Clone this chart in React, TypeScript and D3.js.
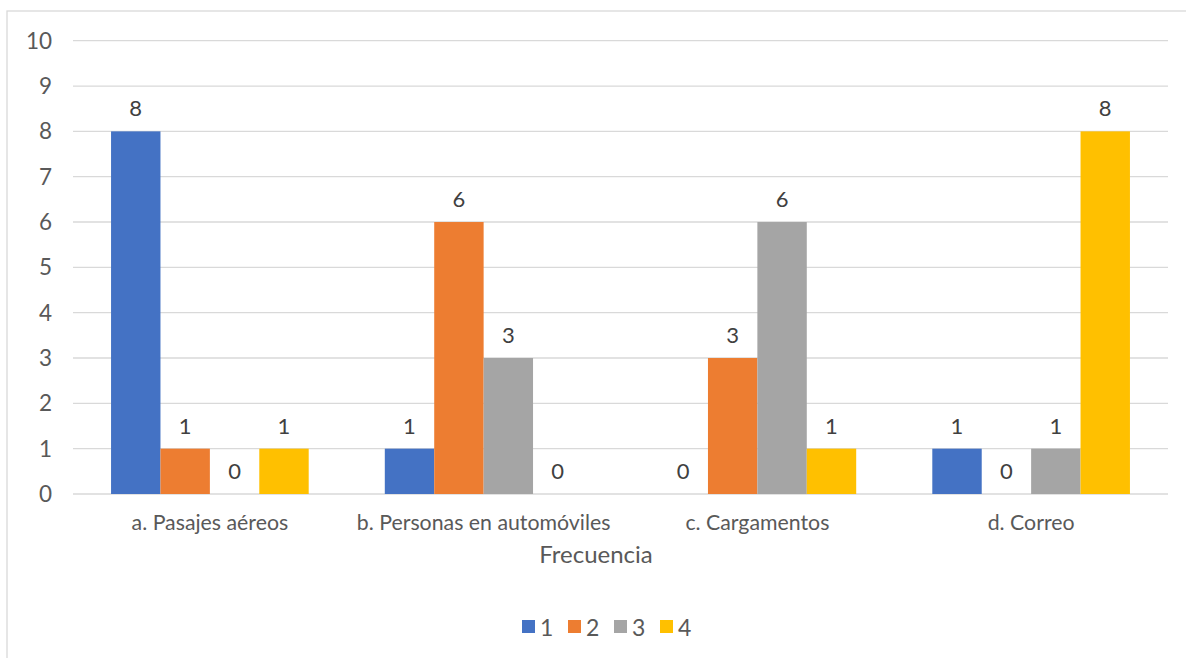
import React from "react";
import * as d3 from "d3";

const categories = ["a. Pasajes aéreos", "b. Personas en automóviles", "c. Cargamentos", "d. Correo"];
const seriesNames = ["1", "2", "3", "4"];
const series1 = [8, 1, 0, 1];
const series2 = [1, 6, 3, 0];
const series3 = [0, 3, 6, 1];
const series4 = [1, 0, 1, 8];
const yTicks = [0, 1, 2, 3, 4, 5, 6, 7, 8, 9, 10];
const colors = ["#4472C4", "#ED7D31", "#A5A5A5", "#FFC000"];
const axisTitle = "Frecuencia";

const W = 1186;
const H = 658;
const plot = { left: 73, right: 1168, top: 40.7, bottom: 494 };
const font = "Lato, 'Open Sans', sans-serif";

export default function App() {
  const allSeries = [series1, series2, series3, series4];

  const x0 = d3.scaleBand<string>().domain(categories).range([plot.left, plot.right]).padding(0);
  const bw = x0.bandwidth();
  const inset = bw * 0.139;
  const x1 = d3.scaleBand<string>().domain(seriesNames).range([inset, bw - inset]).padding(0);
  const y = d3.scaleLinear().domain([0, 10]).range([plot.bottom, plot.top]);

  return (
    <svg width={W} height={H} style={{ position: "absolute", left: 0, top: 0, background: "#fff" }}>
      <rect x={7} y={11} width={W + 10} height={H + 10} fill="#fff" stroke="#d9d9d9" strokeWidth={1.3} />
      {yTicks.map((t) => (
        <g key={t}>
          <line x1={plot.left} x2={plot.right} y1={y(t)} y2={y(t)} stroke="#d9d9d9" strokeWidth={1.3} />
          <text x={52} y={y(t) + 8} textAnchor="end" fontFamily={font} fontSize={22.5} fill="#595959">
            {t}
          </text>
        </g>
      ))}
      {categories.map((c, ci) => (
        <g key={c} transform={`translate(${x0(c)},0)`}>
          {allSeries.map((s, si) => {
            const v = s[ci];
            const bx = x1(seriesNames[si]) as number;
            return (
              <g key={si}>
                {v > 0 && (
                  <rect x={bx} y={y(v)} width={x1.bandwidth()} height={y(0) - y(v)} fill={colors[si]} />
                )}
                <text
                  x={bx + x1.bandwidth() / 2}
                  y={y(v) - 15}
                  textAnchor="middle"
                  fontFamily={font}
                  fontSize={22}
                  fill="#404040"
                >
                  {v}
                </text>
              </g>
            );
          })}
          <text x={bw / 2} y={530} textAnchor="middle" fontFamily={font} fontSize={21.3} fill="#595959">
            {c}
          </text>
        </g>
      ))}
      <text x={596} y={563} textAnchor="middle" fontFamily={font} fontSize={24} fill="#595959">
        {axisTitle}
      </text>
      {seriesNames.map((n, i) => (
        <g key={n} transform={`translate(${522 + i * 46},620)`}>
          <rect x={0} y={0} width={13} height={13} fill={colors[i]} />
          <text x={18} y={15.5} fontFamily={font} fontSize={23} fill="#595959">
            {n}
          </text>
        </g>
      ))}
    </svg>
  );
}
